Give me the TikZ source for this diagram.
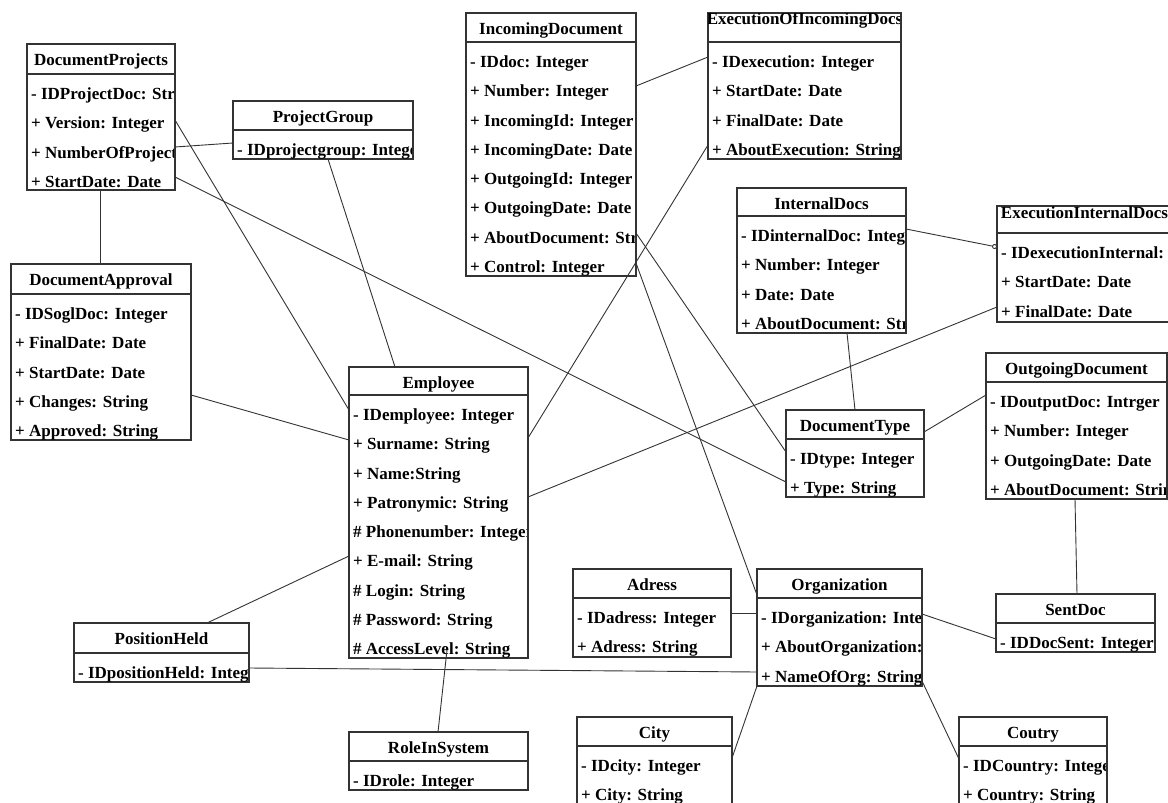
\documentclass[tikz,border=0pt]{standalone}
\usepackage{fontspec}
\setmainfont{Liberation Serif}
\usetikzlibrary{arrows.meta}
% #1 title base, #2 name, #3 left, #4 top, #5 right, #6 bottom, #7 header line, #8 title, #9 rows
\newcommand{\umlclass}[9][21.5]{%
  \pgfmathsetmacro\clsw{#5-#3}%
  \pgfmathsetmacro\clsh{#6-#4}%
  \node[classbox, minimum width=\clsw pt, minimum height=\clsh pt] (#2) at (#3,#4) {};
  \draw[classline] (#3,#7) -- (#5,#7);
  \begin{scope}
    \clip (#3,#4) rectangle (#5-1.5,#6);
    \node[classtext, anchor=base] at ({(#3+#5)/2},#4+#1) {#8};
    \foreach \row [count=\i] in {#9}
      \node[classtext, anchor=base west] at (#3+4,#7+\i*29.25-3.7) {\row};
  \end{scope}
}

\begin{document}
\begin{tikzpicture}[x=1pt,y=-1pt,
  classbox/.style={draw=black!80,line width=1.2pt,fill=white,rectangle,inner sep=0pt,outer sep=0pt,anchor=north west},
  classline/.style={draw=black!80,line width=1.2pt},
  classtext/.style={inner sep=0pt,font=\bfseries\fontsize{17}{20}\selectfont},
  assoc/.style={draw=black!80,line width=0.9pt}]
\useasboundingbox (0,0) rectangle (1168,803);

\umlclass{dproj}{27}{44}{175}{190}{74}{DocumentProjects}{- IDProjectDoc: String, + Version: Integer, + NumberOfProjects: Integer, + StartDate: Date}
\umlclass{pgroup}{233}{101}{413}{159}{130}{ProjectGroup}{- IDprojectgroup: Integer}
\umlclass{indoc}{466}{13}{636}{276}{42}{IncomingDocument}{- IDdoc: Integer, + Number: Integer, + IncomingId: Integer, + IncomingDate: Date, + OutgoingId: Integer, + OutgoingDate: Date, + AboutDocument: String, + Control: Integer}
\umlclass[11]{execin}{708}{13}{901}{159}{42}{ExecutionOfIncomingDocs}{- IDexecution: Integer, + StartDate: Date, + FinalDate: Date, + AboutExecution: String}
\umlclass{intdocs}{737}{188}{906}{333}{216}{InternalDocs}{- IDinternalDoc: Integer, + Number: Integer, + Date: Date, + AboutDocument: String}
\umlclass[12]{execint}{997}{206}{1172}{322}{233}{ExecutionInternalDocs}{- IDexecutionInternal: Integer, + StartDate: Date, + FinalDate: Date}
\umlclass{dappr}{11}{264}{191}{440}{294}{DocumentApproval}{- IDSoglDoc: Integer, + FinalDate: Date, + StartDate: Date, + Changes: String, + Approved: String}
\umlclass{emp}{349}{367}{528}{658}{395}{Employee}{- IDemployee: Integer, + Surname: String, + Name:String, + Patronymic: String, \# Phonenumber: Integer, + E-mail: String, \# Login: String, \# Password: String, \# AccessLevel: String}
\umlclass{dtype}{786}{410}{924}{497}{439}{DocumentType}{- IDtype: Integer, + Type: String}
\umlclass{outdoc}{986}{353}{1167}{499}{382}{OutgoingDocument}{- IDoutputDoc: Intrger, + Number: Integer, + OutgoingDate: Date, + AboutDocument: String}
\umlclass{adress}{573}{569}{731}{657}{598}{Adress}{- IDadress: Integer, + Adress: String}
\umlclass{org}{757}{569}{922}{686}{598}{Organization}{- IDorganization: Integer, + AboutOrganization: String, + NameOfOrg: String}
\umlclass{sentdoc}{996}{594}{1155}{652}{623}{SentDoc}{- IDDocSent: Integer}
\umlclass{posheld}{74}{623}{249}{682}{653}{PositionHeld}{- IDpositionHeld: Integer}
\umlclass{role}{349}{732}{528}{790}{761}{RoleInSystem}{- IDrole: Integer}
\umlclass{city}{577}{717}{732}{805}{746}{City}{- IDcity: Integer, + City: String}
\umlclass{coutry}{959}{717}{1107}{805}{746}{Coutry}{- IDCountry: Integer, + Country: String}

\path[assoc]
  ([shift={(0,103)}]dproj.north east) edge ([shift={(0,42)}]pgroup.north west)
  ([shift={(73,0)}]dproj.south west) edge ([shift={(89,0)}]dappr.north west)
  ([shift={(0,76)}]dproj.north east) edge ([shift={(0,43)}]emp.north west)
  ([shift={(0,133)}]dproj.north east) edge ([shift={(0,72)}]dtype.north west)
  ([shift={(95,0)}]pgroup.south west) edge ([shift={(46,0)}]emp.north west)
  ([shift={(0,131)}]dappr.north east) edge ([shift={(0,73)}]emp.north west)
  ([shift={(0,73)}]indoc.north east) edge ([shift={(0,44)}]execin.north west)
  ([shift={(0,132)}]execin.north west) edge ([shift={(0,71)}]emp.north east)
  ([shift={(0,220)}]indoc.north east) edge ([shift={(0,42)}]dtype.north west)
  ([shift={(0,250)}]indoc.north east) edge ([shift={(0,26)}]org.north west)
  ([shift={(110,0)}]intdocs.south west) edge ([shift={(69,0)}]dtype.north west)
  ([shift={(0,101)}]execint.north west) edge ([shift={(0,130)}]emp.north east)
  ([shift={(0,22)}]dtype.north east) edge ([shift={(0,42)}]outdoc.north west)
  ([shift={(89,0)}]outdoc.south west) edge ([shift={(81,0)}]sentdoc.north west)
  ([shift={(0,45)}]org.north east) edge ([shift={(0,45)}]sentdoc.north west)
  ([shift={(0,44)}]adress.north east) edge ([shift={(0,44)}]org.north west)
  ([shift={(0,45)}]posheld.north east) edge ([shift={(0,103)}]org.north west)
  ([shift={(0,189)}]emp.north west) edge ([shift={(133,0)}]posheld.north west)
  ([shift={(98,-8)}]emp.south west) edge ([shift={(89,0)}]role.north west)
  (org.south west) edge ([shift={(0,41)}]city.north east)
  ([shift={(0,112)}]org.north east) edge ([shift={(0,42)}]coutry.north west);
\path[assoc]
  ([shift={(0,41)}]intdocs.north east) edge[-{Circle[open,fill=white,length=5pt]}] ([shift={(0,41)}]execint.north west);
\end{tikzpicture}
\end{document}
